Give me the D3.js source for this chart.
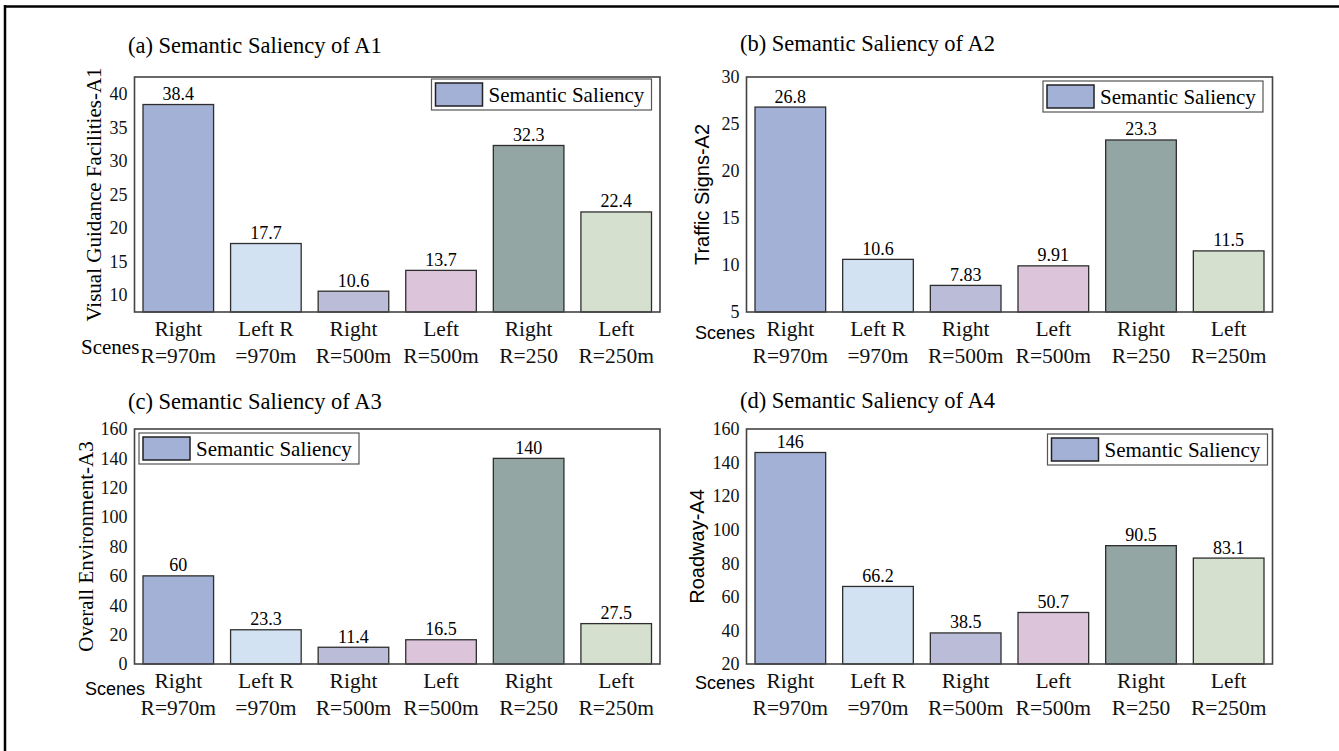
<!DOCTYPE html>
<html>
<head>
<meta charset="utf-8">
<script src="https://cdn.jsdelivr.net/npm/d3@7"></script>
<style>
  body { margin: 0; background: #fff; }
  svg { display: block; }
</style>
</head>
<body>
<div id="chart"></div>
<script>
// Kategorier (to linjer under hver søjle)
var catLine1 = ["Right", "Left R", "Right", "Left", "Right", "Left"];
var catLine2 = ["R=970m", "=970m", "R=500m", "R=500m", "R=250", "R=250m"];
var categories = ["Right R=970m", "Left R=970m", "Right R=500m", "Left R=500m", "Right R=250", "Left R=250m"];

// Værdier for hvert panel
var valuesA1 = [38.4, 17.7, 10.6, 13.7, 32.3, 22.4];
var valuesA2 = [26.8, 10.6, 7.83, 9.91, 23.3, 11.5];
var valuesA3 = [60, 23.3, 11.4, 16.5, 140, 27.5];
var valuesA4 = [146, 66.2, 38.5, 50.7, 90.5, 83.1];

// Tick-værdier på y-akserne
var ticksA1 = [10, 15, 20, 25, 30, 35, 40];
var ticksA2 = [5, 10, 15, 20, 25, 30];
var ticksA3 = [0, 20, 40, 60, 80, 100, 120, 140, 160];
var ticksA4 = [20, 40, 60, 80, 100, 120, 140, 160];

var legendLabel = "Semantic Saliency";
var colors = ["#a4b1d6", "#d3e2f3", "#babcd8", "#dcc4da", "#94a6a3", "#d5e0ce"];

var w = 1339;
var h = 751;
var serif = "'Liberation Serif', 'Times New Roman', serif";
var sans = "'Liberation Sans', Arial, sans-serif";

var svg = d3.select("#chart")
    .append("svg")
    .attr("width", w)
    .attr("height", h);

// Ramme om hele figuren (kun top og venstre)
svg.append("line").attr("x1", 4).attr("x2", w).attr("y1", 6.5).attr("y2", 6.5)
    .style("stroke", "#000").style("stroke-width", 2.5);
svg.append("line").attr("x1", 5).attr("x2", 5).attr("y1", 5).attr("y2", h)
    .style("stroke", "#000").style("stroke-width", 2.5);

var panels = [
    { title: "(a) Semantic Saliency of A1", ylabel: "Visual Guidance Facilities-A1", labelFont: serif,
      values: valuesA1, ticks: ticksA1, domain: [7.5, 42.5],
      left: 134.5, right: 660, top: 77, bottom: 312, titleY: 53,
      ylabX: 94, scenesX: 81, scenesY: 354, scenesFont: serif, scenesSize: 21, legend: [431.5, 79] },
    { title: "(b) Semantic Saliency of A2", ylabel: "Traffic Signs-A2", labelFont: sans,
      values: valuesA2, ticks: ticksA2, domain: [5, 30],
      left: 746.5, right: 1272.5, top: 77, bottom: 312, titleY: 51,
      ylabX: 702, scenesX: 695, scenesY: 339, scenesFont: sans, scenesSize: 18, legend: [1043, 81] },
    { title: "(c) Semantic Saliency of A3", ylabel: "Overall Environment-A3", labelFont: serif,
      values: valuesA3, ticks: ticksA3, domain: [0, 160],
      left: 134.5, right: 660, top: 429, bottom: 664, titleY: 409,
      ylabX: 86, scenesX: 85, scenesY: 695, scenesFont: sans, scenesSize: 18, legend: [139, 433] },
    { title: "(d) Semantic Saliency of A4", ylabel: "Roadway-A4", labelFont: sans,
      values: valuesA4, ticks: ticksA4, domain: [20, 160],
      left: 746.5, right: 1272.5, top: 429, bottom: 664, titleY: 408,
      ylabX: 697, scenesX: 695, scenesY: 689, scenesFont: sans, scenesSize: 18, legend: [1047.5, 434] }
];

panels.forEach(function (p) { drawPanel(p); });

function drawPanel(p) {
    var g = svg.append("g");

    var xScale = d3.scaleBand()
        .domain(categories)
        .range([p.left, p.right])
        .paddingInner(0.194)
        .paddingOuter(0.097);

    var yScale = d3.scaleLinear()
        .domain(p.domain)
        .range([p.bottom, p.top]);

    // Titel
    g.append("text")
        .attr("x", p.left - 6.5)
        .attr("y", p.titleY)
        .style("font-family", serif)
        .style("font-size", "22.5px")
        .text(p.title);

    // Søjler
    g.selectAll(".bar")
        .data(p.values)
        .enter()
        .append("rect")
        .attr("x", function (d, i) { return xScale(categories[i]); })
        .attr("y", function (d) { return yScale(d); })
        .attr("width", xScale.bandwidth())
        .attr("height", function (d) { return p.bottom - yScale(d); })
        .style("fill", function (d, i) { return colors[i]; })
        .style("stroke", "#2e2e2e")
        .style("stroke-width", 1.3);

    // Værdier over søjlerne
    g.selectAll(".val")
        .data(p.values)
        .enter()
        .append("text")
        .attr("x", function (d, i) { return xScale(categories[i]) + xScale.bandwidth() / 2; })
        .attr("y", function (d) { return yScale(d) - 4.5; })
        .attr("text-anchor", "middle")
        .style("font-family", serif)
        .style("font-size", "18px")
        .text(function (d) { return String(d); });

    // Ramme om plottet
    g.append("rect")
        .attr("x", p.left)
        .attr("y", p.top)
        .attr("width", p.right - p.left)
        .attr("height", p.bottom - p.top)
        .style("fill", "none")
        .style("stroke", "#444")
        .style("stroke-width", 1.6);

    // y-akse uden tick-streger
    var yAxis = g.append("g")
        .attr("transform", "translate(" + p.left + ",0)")
        .call(d3.axisLeft(yScale).tickValues(p.ticks).tickSize(0).tickPadding(7).tickFormat(d3.format("d")));
    yAxis.select(".domain").remove();
    yAxis.selectAll("text")
        .style("font-family", serif)
        .style("font-size", "18px")
        .style("fill", "#111");

    // x-akse: to linjer tekst pr. kategori
    var xAxis = g.append("g")
        .attr("transform", "translate(0," + p.bottom + ")")
        .call(d3.axisBottom(xScale).tickSize(0).tickFormat(""));
    xAxis.select(".domain").remove();
    xAxis.selectAll(".tick").each(function (d, i) {
        var t = d3.select(this).append("text")
            .attr("text-anchor", "middle")
            .style("font-family", serif)
            .style("font-size", "21.5px")
            .style("fill", "#111");
        t.append("tspan").attr("x", 0).attr("y", 23.5).text(catLine1[i]);
        t.append("tspan").attr("x", 0).attr("y", 50.5).text(catLine2[i]);
    });

    // Akse-titler
    g.append("text")
        .attr("transform", "translate(" + p.ylabX + "," + ((p.top + p.bottom) / 2) + ") rotate(-90)")
        .attr("dy", "0.35em")
        .attr("text-anchor", "middle")
        .style("font-family", p.labelFont)
        .style("font-size", p.labelFont === sans ? "20px" : "21px")
        .text(p.ylabel);

    g.append("text")
        .attr("x", p.scenesX)
        .attr("y", p.scenesY)
        .style("font-family", p.scenesFont)
        .style("font-size", p.scenesSize + "px")
        .text("Scenes");

    // Forklaring (legend)
    var lg = g.append("g").attr("transform", "translate(" + p.legend[0] + "," + p.legend[1] + ")");
    lg.append("rect")
        .attr("width", 220)
        .attr("height", 31)
        .style("fill", "#fff")
        .style("stroke", "#555")
        .style("stroke-width", 1.2);
    lg.append("rect")
        .attr("x", 4)
        .attr("y", 4)
        .attr("width", 47)
        .attr("height", 23)
        .style("fill", colors[0])
        .style("stroke", "#222")
        .style("stroke-width", 1.5);
    lg.append("text")
        .attr("x", 57)
        .attr("y", 22.5)
        .style("font-family", serif)
        .style("font-size", "21px")
        .text(legendLabel);
}
</script>
</body>
</html>
